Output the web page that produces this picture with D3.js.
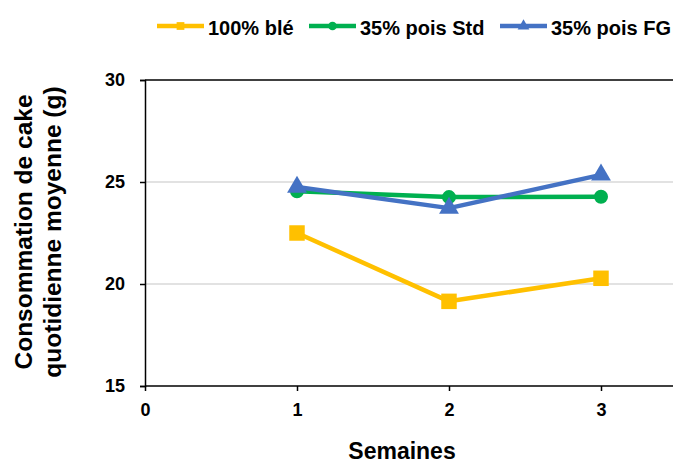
<!DOCTYPE html>
<html><head><meta charset="utf-8">
<script src="https://cdn.jsdelivr.net/npm/d3@7"></script>
<style>body{margin:0;background:#fff}svg{display:block}text{font-family:Arial,"Liberation Sans",sans-serif;font-weight:bold;fill:#000}</style>
</head><body>
<script>
const weeks = [1, 2, 3];
const seriesNames = ["100% blé", "35% pois Std", "35% pois FG"];
const ble100 = [22.5, 19.15, 20.28];
const poisStd = [24.55, 24.26, 24.28];
const poisFG = [24.75, 23.72, 25.35];
const yTicks = [15, 20, 25, 30];
const xTicks = [0, 1, 2, 3];

const W = 673, H = 465;
const m = {left: 145};
const svg = d3.select("body").append("svg").attr("width", W).attr("height", H);

const x = d3.scaleLinear().domain([0, 3.5]).range([m.left, m.left + 3.5 * 152]);
const y = d3.scaleLinear().domain([15, 30]).range([386, 80]);

// gridlines
svg.append("g").selectAll("line").data([20, 25]).join("line")
  .attr("x1", m.left).attr("x2", W).attr("y1", d => y(d)).attr("y2", d => y(d))
  .attr("stroke", "#d9d9d9").attr("stroke-width", 1.5);

// top border line
svg.append("line").attr("x1", m.left).attr("x2", W).attr("y1", y(30)).attr("y2", y(30))
  .attr("stroke", "#000").attr("stroke-width", 1.5);

const yAxis = svg.append("g").attr("transform", `translate(${m.left},0)`)
  .call(d3.axisLeft(y).tickValues(yTicks).tickSize(5).tickPadding(15).tickFormat(d3.format("d")));
const xAxis = svg.append("g").attr("transform", `translate(0,${y(15)})`)
  .call(d3.axisBottom(x).tickValues(xTicks).tickSize(5).tickPadding(12).tickFormat(d3.format("d")));
[yAxis, xAxis].forEach(a => {
  a.select(".domain").attr("stroke", "#000").attr("stroke-width", 1.5);
  a.selectAll(".tick line").attr("stroke", "#000").attr("stroke-width", 1.5);
  a.selectAll("text").attr("font-size", 18).attr("font-weight", "bold").attr("font-family", "Arial, Liberation Sans, sans-serif").attr("fill", "#000");
});
xAxis.select(".domain").attr("d", `M${m.left},0H${W}`);

const colors = ["#FFC000", "#00B050", "#4472C4"];
const data = [ble100, poisStd, poisFG];
const shapes = [d3.symbolSquare, d3.symbolCircle, d3.symbolTriangle];
const sizes = [240, 154, 170];

const line = d3.line().x((d, i) => x(weeks[i])).y(d => y(d));
data.forEach((vals, s) => {
  svg.append("path").datum(vals).attr("d", line).attr("fill", "none")
    .attr("stroke", colors[s]).attr("stroke-width", 4.5).attr("stroke-linejoin", "round");
  svg.append("g").selectAll("path").data(vals).join("path")
    .attr("d", d3.symbol().type(shapes[s]).size(sizes[s]))
    .attr("transform", (d, i) => `translate(${x(weeks[i])},${y(d)})`)
    .attr("fill", colors[s]);
});

// legend
const legX = [157, 309, 500];
const lg = svg.append("g");
seriesNames.forEach((n, s) => {
  const g = lg.append("g").attr("transform", `translate(${legX[s]},26)`);
  g.append("line").attr("x1", 0).attr("x2", 47).attr("stroke", colors[s]).attr("stroke-width", 4.5);
  g.append("path").attr("d", d3.symbol().type(shapes[s]).size(60)).attr("transform", "translate(23.5,0)").attr("fill", colors[s]);
  g.append("text").attr("x", 51).attr("y", 9).attr("font-size", 20).text(n);
});

// axis titles
svg.append("text").attr("x", 402).attr("y", 459).attr("text-anchor", "middle").attr("font-size", 23).text("Semaines");
const yt = svg.append("text").attr("transform", "translate(0,232) rotate(-90)").attr("text-anchor", "middle").attr("font-size", 24.5);
yt.append("tspan").attr("x", 0).attr("y", 32).text("Consommation de cake");
yt.append("tspan").attr("x", 0).attr("y", 61).text("quotidienne moyenne (g)");
</script>
</body></html>
